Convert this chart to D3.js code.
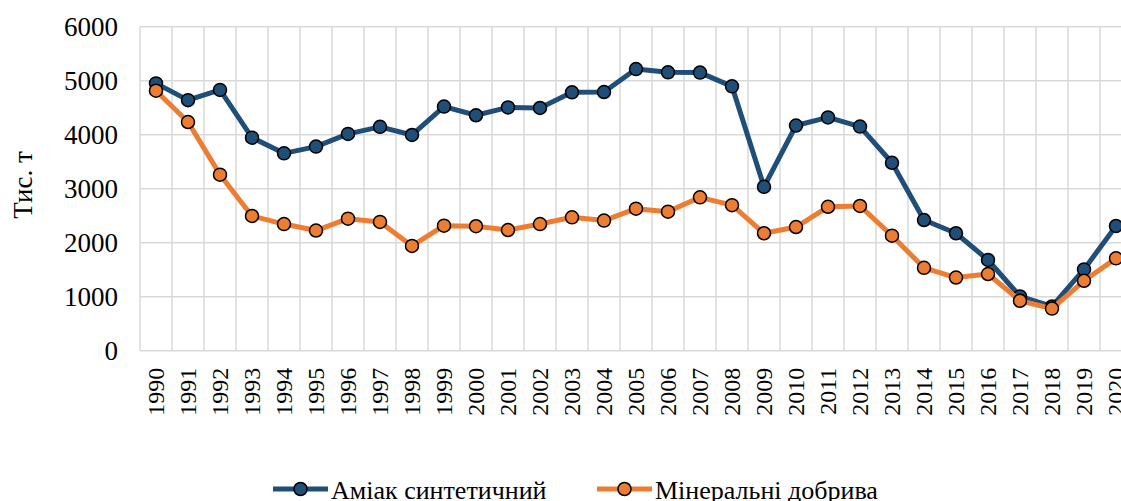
<!DOCTYPE html>
<html>
<head>
<meta charset="utf-8">
<script src="https://cdn.jsdelivr.net/npm/d3@7"></script>
<style>
  body { margin: 0; background: #fff; }
  text { font-family: "Liberation Serif", "DejaVu Serif", serif; fill: #000; }
</style>
</head>
<body>
<div id="chart"></div>
<script>
// Data
var years = ["1990","1991","1992","1993","1994","1995","1996","1997","1998","1999",
  "2000","2001","2002","2003","2004","2005","2006","2007","2008","2009",
  "2010","2011","2012","2013","2014","2015","2016","2017","2018","2019","2020"];
var ammonia = [4950, 4640, 4830, 3945, 3655, 3780, 4015, 4145, 3995, 4520,
  4360, 4505, 4495, 4785, 4790, 5215, 5155, 5150, 4895, 3035,
  4170, 4320, 4150, 3480, 2420, 2175, 1680, 1005, 820, 1505, 2310];
var fertilizers = [4815, 4235, 3260, 2495, 2345, 2225, 2445, 2385, 1940, 2315,
  2305, 2235, 2345, 2470, 2410, 2630, 2575, 2840, 2695, 2175,
  2290, 2665, 2680, 2130, 1535, 1355, 1420, 925, 780, 1295, 1710];
var yTicks = [0, 1000, 2000, 3000, 4000, 5000, 6000];
var seriesNames = ["Аміак синтетичний", "Мінеральні добрива"];
var seriesColors = ["#1f4e79", "#ed7d31"];

// SVG area
var svgWidth = 1121;
var svgHeight = 501;

var plot = { left: 140, right: 1132, top: 26.7, bottom: 350.7 };

var svg = d3.select("#chart")
  .append("svg")
    .attr("width", svgWidth)
    .attr("height", svgHeight);

var x = d3.scaleBand()
  .domain(years)
  .range([plot.left, plot.right]);

var y = d3.scaleLinear()
  .domain([0, 6000])
  .range([plot.bottom, plot.top]);

// grid lines
var grid = svg.append("g");
grid.selectAll("line.h")
  .data(yTicks)
  .enter()
  .append("line")
    .attr("x1", plot.left)
    .attr("x2", plot.right)
    .attr("y1", function (d) { return y(d); })
    .attr("y2", function (d) { return y(d); })
    .attr("stroke", "#d9d9d9")
    .attr("stroke-width", 1.5);

grid.selectAll("line.v")
  .data(years.concat(["end"]))
  .enter()
  .append("line")
    .attr("x1", function (d, i) { return plot.left + i * x.bandwidth(); })
    .attr("x2", function (d, i) { return plot.left + i * x.bandwidth(); })
    .attr("y1", plot.top)
    .attr("y2", plot.bottom)
    .attr("stroke", "#d9d9d9")
    .attr("stroke-width", 1.5);

// y axis labels
var yAxis = svg.append("g")
  .attr("transform", "translate(" + plot.left + ",0)")
  .call(d3.axisLeft(y).tickValues(yTicks).tickSize(0).tickPadding(22).tickFormat(d3.format("d")));
yAxis.select(".domain").remove();
yAxis.selectAll("text")
  .style("font-size", "27px")
  .style("font-family", "'Liberation Serif', serif");

// x axis labels
var xAxis = svg.append("g")
  .attr("transform", "translate(0," + plot.bottom + ")")
  .call(d3.axisBottom(x).tickSize(0));
xAxis.select(".domain").remove();
xAxis.selectAll("text")
  .attr("transform", "rotate(-90)")
  .attr("text-anchor", "end")
  .attr("x", -17)
  .attr("y", 0)
  .attr("dy", "0.35em")
  .style("font-size", "24px")
  .style("font-family", "'Liberation Serif', serif");

// y title
svg.append("text")
  .attr("transform", "translate(32,185) rotate(-90)")
  .attr("text-anchor", "middle")
  .style("font-size", "27px")
  .text("Тис. т");

// lines and markers
var allSeries = [ammonia, fertilizers];
var line = d3.line()
  .x(function (d, i) { return x(years[i]) + x.bandwidth() / 2; })
  .y(function (d) { return y(d); });

allSeries.forEach(function (values, s) {
  var g = svg.append("g");
  g.append("path")
    .datum(values)
    .attr("d", line)
    .attr("fill", "none")
    .attr("stroke", seriesColors[s])
    .attr("stroke-width", 5)
    .attr("stroke-linejoin", "round");
  g.selectAll("circle")
    .data(values)
    .enter()
    .append("circle")
      .attr("cx", function (d, i) { return x(years[i]) + x.bandwidth() / 2; })
      .attr("cy", function (d) { return y(d); })
      .attr("r", 6.5)
      .attr("fill", seriesColors[s])
      .attr("stroke", "#000")
      .attr("stroke-width", 1.5);
});

// legend
var legendX = [273, 597];
var legend = svg.append("g");
seriesNames.forEach(function (name, s) {
  var lg = legend.append("g").attr("transform", "translate(" + legendX[s] + ",489)");
  lg.append("line")
    .attr("x1", 0).attr("x2", 55)
    .attr("y1", 0).attr("y2", 0)
    .attr("stroke", seriesColors[s])
    .attr("stroke-width", 5);
  lg.append("circle")
    .attr("cx", 27.5).attr("cy", 0).attr("r", 6.5)
    .attr("fill", seriesColors[s])
    .attr("stroke", "#000")
    .attr("stroke-width", 1.5);
  lg.append("text")
    .attr("x", 58)
    .attr("y", 10)
    .style("font-size", "26px")
    .text(name);
});
</script>
</body>
</html>
